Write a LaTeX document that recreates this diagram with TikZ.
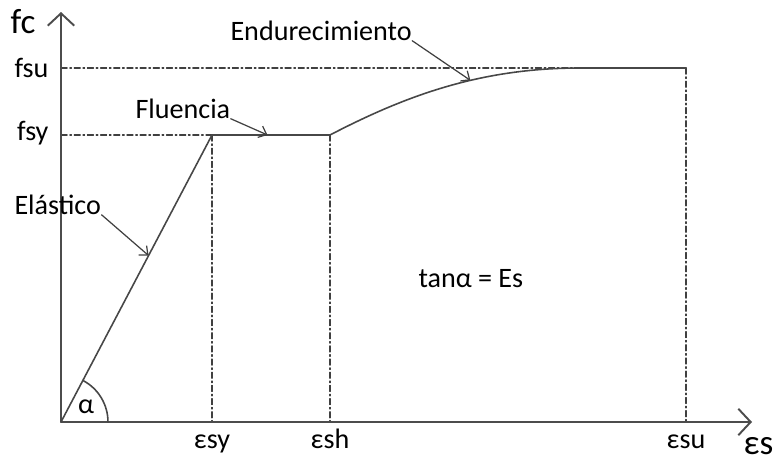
\documentclass[tikz,border=0pt]{standalone}
\usepackage{fontspec}
\setmainfont{Carlito}
\usetikzlibrary{arrows.meta}

\begin{document}
\begin{tikzpicture}[
    x = 0.02cm, y = 0.02cm, % one unit is one pixel of the sketch
    line cap = round,
    semithick % line style
    ]

    \tikzset{
    axis/.style = {draw = black!70, line width = 1.1pt, -{Straight Barb[length=7pt,width=15pt]}},
    curve/.style = {draw = black!72, line width = 0.9pt},
    guide/.style = {draw = black!75, line width = 0.6pt, dash pattern = on 3.5pt off 1.5pt on 1pt off 1.5pt},
    txt/.style = {inner sep = 0pt, font = \fontsize{16}{19}\selectfont},
    big/.style = {inner sep = 0pt, font = \fontsize{20}{24}\selectfont},
    pointer/.style = {draw = black!75, line width = 0.7pt, -{Straight Barb[length=4pt,width=7pt]}}
    }
    \useasboundingbox (0,0) rectangle (779,461);

    % main points of the diagram
    \coordinate (O) at (61,39);
    \coordinate (ytop) at (61,449);
    \coordinate (xend) at (752,39);
    \coordinate (Y) at (212,326);
    \coordinate (H) at (330,326);
    \coordinate (S) at (580,393);
    \coordinate (U) at (686,393);
    \coordinate (fsu0) at (61,393);
    \coordinate (fsy0) at (61,326);
    \coordinate (esy0) at (212,39);
    \coordinate (esh0) at (330,39);
    \coordinate (esu0) at (686,39);

    % guide lines
    \draw[guide] (fsu0) -- (U);
    \draw[guide] (fsy0) -- (Y);
    \draw[guide] (Y) -- (esy0);
    \draw[guide] (H) -- (esh0);
    \draw[guide] (U) -- (esu0);

    % axes
    \draw[axis] (O) -- (ytop);
    \draw[axis] (O) -- (xend);

    % stress-strain curve
    \draw[curve] (O) -- coordinate[pos=0.58] (pe) (Y)
        -- coordinate[pos=0.47] (pf) (H)
        .. controls (405,365) and (480,393) .. (S) -- (U);
    \path (H) .. controls (405,365) and (480,393) .. coordinate[pos=0.6] (pd) (S);
    \draw[curve] (O) ++(0.94cm,0) arc[start angle=0, end angle=62.2, radius=0.94cm];

    % labels
    \node[big, anchor=base west] (fc) at (10,428) {fc};
    \node[big, anchor=base west] (es) at (743,7) {εs};
    \node[txt, anchor=base east] (fsu) at (49,384) {fsu};
    \node[txt, anchor=base east] (fsy) at (49,321) {fsy};
    \node[txt, anchor=base] (esy) at (212,13) {εsy};
    \node[txt, anchor=base] (esh) at (330,13) {εsh};
    \node[txt, anchor=base] (esu) at (686,13) {εsu};
    \node[txt, anchor=base] (alpha) at (86,48) {α};
    \node[txt, anchor=base west] (tan) at (418,174) {tanα = Es};
    \node[txt, anchor=base west] (ela) at (14,247) {Elástico};
    \node[txt, anchor=base west] (flu) at (135,343) {Fluencia};
    \node[txt, anchor=base west] (end) at (230,421) {Endurecimiento};

    % pointers
    \draw[pointer] (ela.south east) -- (pe);
    \draw[pointer] (flu.south east) -- (pf);
    \draw[pointer] (end.south east) -- (pd);
\end{tikzpicture}
\end{document}
